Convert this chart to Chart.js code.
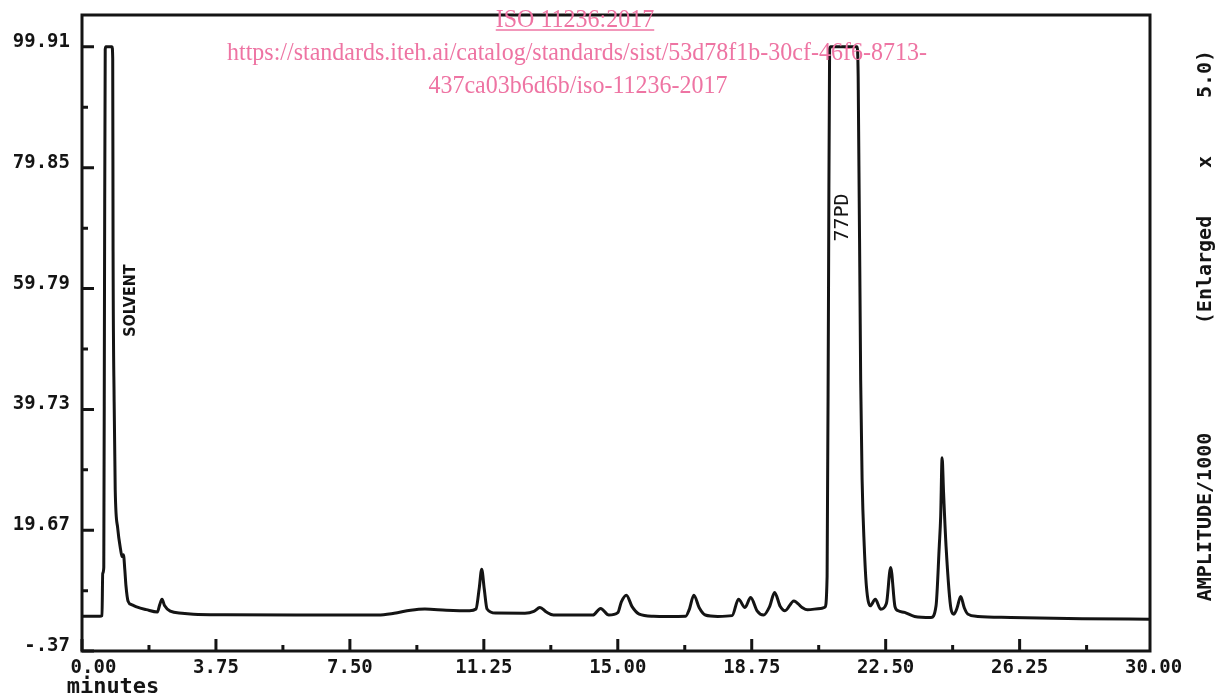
<!DOCTYPE html>
<html><head><meta charset="utf-8">
<script src="https://cdn.jsdelivr.net/npm/chart.js@4.4.1/dist/chart.umd.min.js"></script>
<style>html,body{margin:0;padding:0;background:#fff}#wrap{width:1232px;height:696px;position:relative}</style>
</head><body><div id="wrap"><canvas id="c"></canvas></div>
<script>
// ---- data ----
const timeMin = [0.00,0.50,0.56,0.58,0.61,0.63,0.65,0.67,0.84,0.86,0.87,0.90,0.93,1.00,1.08,1.12,1.16,1.20,1.23,1.29,1.40,1.55,1.80,2.11,2.18,2.24,2.31,2.47,2.80,3.12,4.00,6.00,8.29,8.74,9.20,9.60,10.20,10.85,11.03,11.12,11.19,11.26,11.34,11.58,12.40,12.65,12.82,13.00,13.20,14.30,14.52,14.75,15.00,15.10,15.24,15.40,15.60,16.00,16.40,16.90,17.00,17.13,17.28,17.45,17.80,18.20,18.38,18.56,18.72,18.90,19.08,19.25,19.39,19.55,19.68,19.93,20.15,20.31,20.68,20.80,20.86,20.90,20.93,20.96,21.70,21.73,21.80,21.84,21.90,21.96,22.07,22.21,22.36,22.52,22.64,22.76,22.85,23.03,23.31,23.77,23.91,24.00,24.04,24.08,24.12,24.19,24.33,24.41,24.50,24.60,24.70,24.80,25.08,26.00,28.00,30.00];
const amplitude = [5.4,5.4,5.5,12.5,13.5,60,99.5,99.91,99.91,98,66,41,26.4,20,16.5,15.3,15.6,13,10.5,7.9,7.3,6.9,6.5,6.1,7.4,8.2,7.2,6.25,5.9,5.75,5.65,5.6,5.6,5.9,6.4,6.6,6.4,6.3,6.6,10,13.2,10,6.6,5.92,5.9,6.2,6.86,6.1,5.59,5.59,6.7,5.6,6.0,7.8,8.9,7.0,5.75,5.4,5.37,5.4,6.5,8.9,6.8,5.6,5.37,5.5,8.23,6.86,8.52,6.3,5.59,7.0,9.34,7.0,6.3,7.95,6.9,6.46,6.7,6.9,12,60,99.5,99.91,99.91,95,44.6,28.1,17.05,10.4,7.13,8.23,6.58,7.5,13.48,7.0,6.3,6.03,5.37,5.2,7.13,17,22,31.7,26,17.05,6.58,5.75,6.8,8.68,6.8,5.75,5.37,5.2,5.0,4.9];
const xTickValues = [0,3.75,7.5,11.25,15,18.75,22.5,26.25,30];
const xTickLabels = ['0.00','3.75','7.50','11.25','15.00','18.75','22.50','26.25','30.00'];
const yTickValues = [-0.37,19.67,39.73,59.79,79.85,99.91];
const yTickLabels = ['-.37','19.67','39.73','59.79','79.85','99.91'];
const xAxisTitle = 'minutes';
const yAxisTitleParts = ['AMPLITUDE/1000','(Enlarged','x','5.0)'];
const peakNames = ['SOLVENT','77PD'];
const watermarkLines = ['ISO 11236:2017','https://standards.iteh.ai/catalog/standards/sist/53d78f1b-30cf-46f6-8713-','437ca03b6d6b/iso-11236-2017'];

const INK = '#141414';
const PINK = '#ee74a3';
const MONO = '"DejaVu Sans Mono", monospace';

const overlay = {
  id: 'overlay',
  afterDraw(chart) {
    const {ctx, chartArea: a, scales: {x, y}} = chart;
    ctx.save();
    // frame
    ctx.strokeStyle = INK; ctx.lineWidth = 3;
    ctx.strokeRect(a.left, a.top, a.right - a.left, a.bottom - a.top);
    // inward ticks
    ctx.beginPath();
    const inX = px => px >= a.left - 1 && px <= a.right + 1;
    xTickValues.forEach((v, i) => {
      const px = x.getPixelForValue(v);
      if (inX(px)) { ctx.moveTo(px, a.bottom); ctx.lineTo(px, a.bottom - 12); }
      if (i < xTickValues.length - 1) {
        const pm = x.getPixelForValue((v + xTickValues[i + 1]) / 2);
        if (inX(pm)) { ctx.moveTo(pm, a.bottom); ctx.lineTo(pm, a.bottom - 6); }
      }
    });
    yTickValues.forEach((v, i) => {
      const py = y.getPixelForValue(v);
      ctx.moveTo(a.left, py); ctx.lineTo(a.left + 12, py);
      if (i < yTickValues.length - 1) {
        const pm = y.getPixelForValue((v + yTickValues[i + 1]) / 2);
        ctx.moveTo(a.left, pm); ctx.lineTo(a.left + 6, pm);
      }
    });
    ctx.stroke();

    // x axis title
    ctx.fillStyle = INK;
    ctx.font = 'bold 22px ' + MONO;
    ctx.textAlign = 'center'; ctx.textBaseline = 'middle';
    ctx.fillText(xAxisTitle, 113, 687);

    // right axis title, reading upward
    ctx.font = 'bold 20px ' + MONO;
    const partCenters = [517, 270, 162, 74];
    yAxisTitleParts.forEach((s, i) => {
      ctx.save();
      ctx.translate(1206, partCenters[i]);
      ctx.rotate(-Math.PI / 2);
      ctx.fillText(s, 0, 0);
      ctx.restore();
    });

    // peak annotations
    ctx.save();
    ctx.font = 'bold 16px "DejaVu Sans Condensed", "DejaVu Sans", sans-serif';
    ctx.translate(x.getPixelForValue(1.38), y.getPixelForValue(57.8));
    ctx.rotate(-Math.PI / 2);
    ctx.fillText(peakNames[0], 0, 0);
    ctx.restore();
    ctx.save();
    ctx.font = '20px ' + MONO;
    ctx.translate(x.getPixelForValue(21.3), y.getPixelForValue(71.6));
    ctx.rotate(-Math.PI / 2);
    ctx.fillText(peakNames[1], 0, 0);
    ctx.restore();

    // pink watermark: tall, slightly condensed serif
    ctx.fillStyle = PINK; ctx.strokeStyle = PINK;
    ctx.font = '26px "Liberation Serif", serif';
    ctx.textBaseline = 'alphabetic';
    const sx = 700 / ctx.measureText(watermarkLines[1]).width;
    const lines = [[575, 27], [577, 60], [578, 93]];
    watermarkLines.forEach((s, i) => {
      ctx.save();
      ctx.translate(lines[i][0], lines[i][1]);
      ctx.scale(sx, 1);
      ctx.fillText(s, 0, 0);
      ctx.restore();
    });
    const w0 = ctx.measureText(watermarkLines[0]).width * sx;
    ctx.lineWidth = 1.3;
    ctx.beginPath();
    ctx.moveTo(lines[0][0] - w0 / 2, 30); ctx.lineTo(lines[0][0] + w0 / 2, 30);
    ctx.stroke();
    ctx.restore();
  }
};

new Chart(document.getElementById('c'), {
  type: 'line',
  data: {
    datasets: [{
      data: timeMin.map((t, i) => ({x: t, y: amplitude[i]})),
      borderColor: INK,
      borderWidth: 3,
      pointRadius: 0,
      cubicInterpolationMode: 'monotone',
      fill: false
    }]
  },
  options: {
    responsive: true,
    maintainAspectRatio: false,
    animation: false,
    events: [],
    layout: {padding: {top: 15, right: 82, bottom: 0, left: 0}},
    plugins: {legend: {display: false}, tooltip: {enabled: false}},
    scales: {
      x: {
        type: 'linear', min: 0, max: 29.9,
        afterBuildTicks: s => { s.ticks = xTickValues.map(v => ({value: v})); },
        afterFit: s => { s.height = 45; s.paddingLeft = 0; s.paddingRight = 0; },
        grid: {display: false, drawTicks: false},
        border: {display: false},
        ticks: {
          autoSkip: false, maxRotation: 0, padding: 6,
          color: INK,
          font: {family: 'DejaVu Sans Mono', weight: 'bold', size: 19},
          callback: (v, i) => (i === 0 ? '\u00a0\u00a0' : '') + xTickLabels[i]
        }
      },
      y: {
        type: 'linear', min: -0.37, max: 105.2,
        afterBuildTicks: s => { s.ticks = yTickValues.map(v => ({value: v})); },
        afterFit: s => { s.width = 82; s.paddingTop = 0; s.paddingBottom = 0; },
        grid: {display: false, drawTicks: false},
        border: {display: false},
        ticks: {
          autoSkip: false, padding: 12, labelOffset: -5,
          color: INK,
          font: {family: 'DejaVu Sans Mono', weight: 'bold', size: 19},
          callback: (v, i) => yTickLabels[i]
        }
      }
    }
  },
  plugins: [overlay]
});
</script>
</body></html>
